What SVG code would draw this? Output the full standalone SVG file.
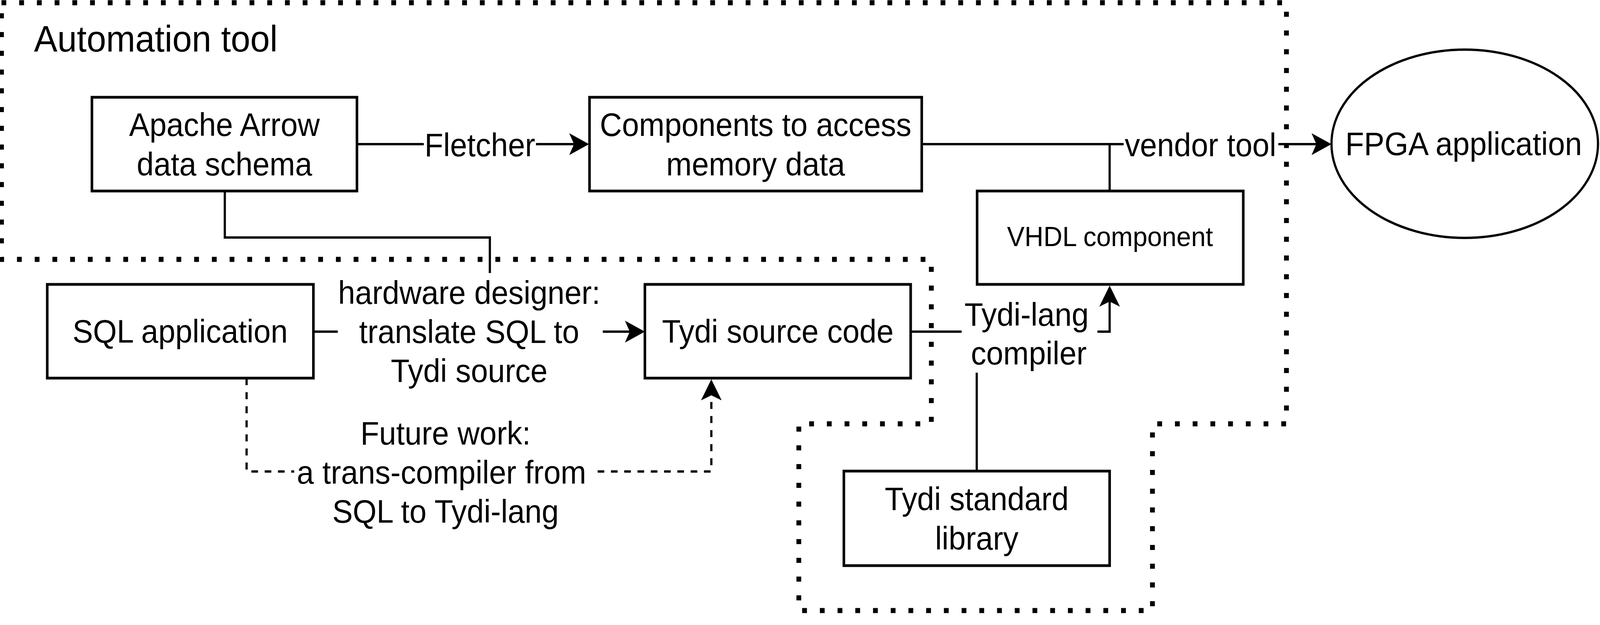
<svg xmlns="http://www.w3.org/2000/svg" width="4334" height="1600" viewBox="0 0 4334 1600">
<style>
  text { font-family: "Liberation Sans", Arial, sans-serif; font-size: 83px; fill: #000; text-anchor: middle; }
  .box { fill: #fff; stroke: #000; stroke-width: 7; }
  .edge { fill: none; stroke: #000; stroke-width: 6; }
  .dashed { stroke-dasharray: 18 18; }
  .region { fill: none; stroke: #000; stroke-width: 13; stroke-dasharray: 13 35; }
  .title { font-size: 95px; text-anchor: start; }
  .small { font-size: 71px; }
</style>
<defs>
  <marker id="arrow" markerUnits="userSpaceOnUse" viewBox="0 0 54 56" markerWidth="54" markerHeight="56" refX="13" refY="28" orient="auto">
    <path d="M0,0 L54,28 L0,56 L13,28 Z" fill="#000"/>
  </marker>
</defs>
<rect width="4334" height="1600" fill="#fff"/>

<g id="diagram" transform="scale(0.945 1)">
<g id="automation-region">
  <path class="region" d="M4,7 H3485 V1085 H3122 V1563 H2164 V1085 H2523 V664 H4 Z"/>
  <text class="title" x="92" y="132">Automation tool</text>
</g>

<g id="connectors">
  <!-- Apache -> Components (Fletcher) -->
  <line class="edge" x1="967" y1="369" x2="1148" y2="369"/>
  <line class="edge" x1="1452" y1="369" x2="1555" y2="369" marker-end="url(#arrow)"/>
  <text x="1300" y="400">Fletcher</text>
  <!-- Components -> FPGA (vendor tool) -->
  <line class="edge" x1="2497" y1="369" x2="3044" y2="369"/>
  <line class="edge" x1="3006" y1="369" x2="3006" y2="489"/>
  <line class="edge" x1="3463" y1="369" x2="3566" y2="369" marker-end="url(#arrow)"/>
  <text x="3252" y="400">vendor tool</text>
  <!-- Apache -> hardware designer label -->
  <polyline class="edge" points="609,489 609,608 1327,608 1327,699"/>
  <!-- SQL -> Tydi source code -->
  <line class="edge" x1="849" y1="849" x2="915" y2="849"/>
  <line class="edge" x1="1633" y1="849" x2="1706" y2="849" marker-end="url(#arrow)"/>
  <text x="1271" y="778">hardware designer:</text>
  <text x="1271" y="878">translate SQL to</text>
  <text x="1271" y="978">Tydi source</text>
  <!-- Tydi source -> VHDL component -->
  <line class="edge" x1="2467" y1="849" x2="2605" y2="849"/>
  <polyline class="edge" points="2973,849 3006,849 3006,772" marker-end="url(#arrow)"/>
  <text x="2781" y="834">Tydi-lang</text>
  <text x="2787" y="933">compiler</text>
  <!-- Tydi standard library -> compiler label -->
  <line class="edge" x1="2646" y1="1206" x2="2646" y2="954"/>
  <!-- SQL -> Tydi source (future work, dashed) -->
  <polyline class="edge dashed" points="668,968 668,1207 797,1207"/>
  <polyline class="edge dashed" points="1619,1207 1927,1207 1927,1012" marker-end="url(#arrow)"/>
  <text x="1207" y="1138">Future work:</text>
  <text x="1196" y="1238">a trans-compiler from</text>
  <text x="1207" y="1338">SQL to Tydi-lang</text>
</g>

<g id="apache-arrow">
  <rect class="box" x="249" y="249" width="718" height="240"/>
  <text x="608" y="348">Apache Arrow</text>
  <text x="608" y="449">data schema</text>
</g>
<g id="components">
  <rect class="box" x="1597" y="249" width="900" height="240"/>
  <text x="2047" y="348">Components to access</text>
  <text x="2047" y="449">memory data</text>
</g>
<g id="vhdl-component">
  <rect class="box" x="2647" y="489" width="721" height="239"/>
  <text class="small" x="3007" y="630">VHDL component</text>
</g>
<g id="fpga-application">
  <ellipse cx="3968" cy="368" rx="361" ry="241" fill="#fff" stroke="#000" stroke-width="6"/>
  <text x="3965" y="397">FPGA application</text>
</g>
<g id="sql-application">
  <rect class="box" x="128" y="728" width="721" height="240"/>
  <text x="488" y="877">SQL application</text>
</g>
<g id="tydi-source-code">
  <rect class="box" x="1747" y="728" width="720" height="240"/>
  <text x="2107" y="877">Tydi source code</text>
</g>
<g id="tydi-standard-library">
  <rect class="box" x="2286" y="1206" width="720" height="242"/>
  <text x="2646" y="1306">Tydi standard</text>
  <text x="2646" y="1407">library</text>
</g>
</g>
</svg>
